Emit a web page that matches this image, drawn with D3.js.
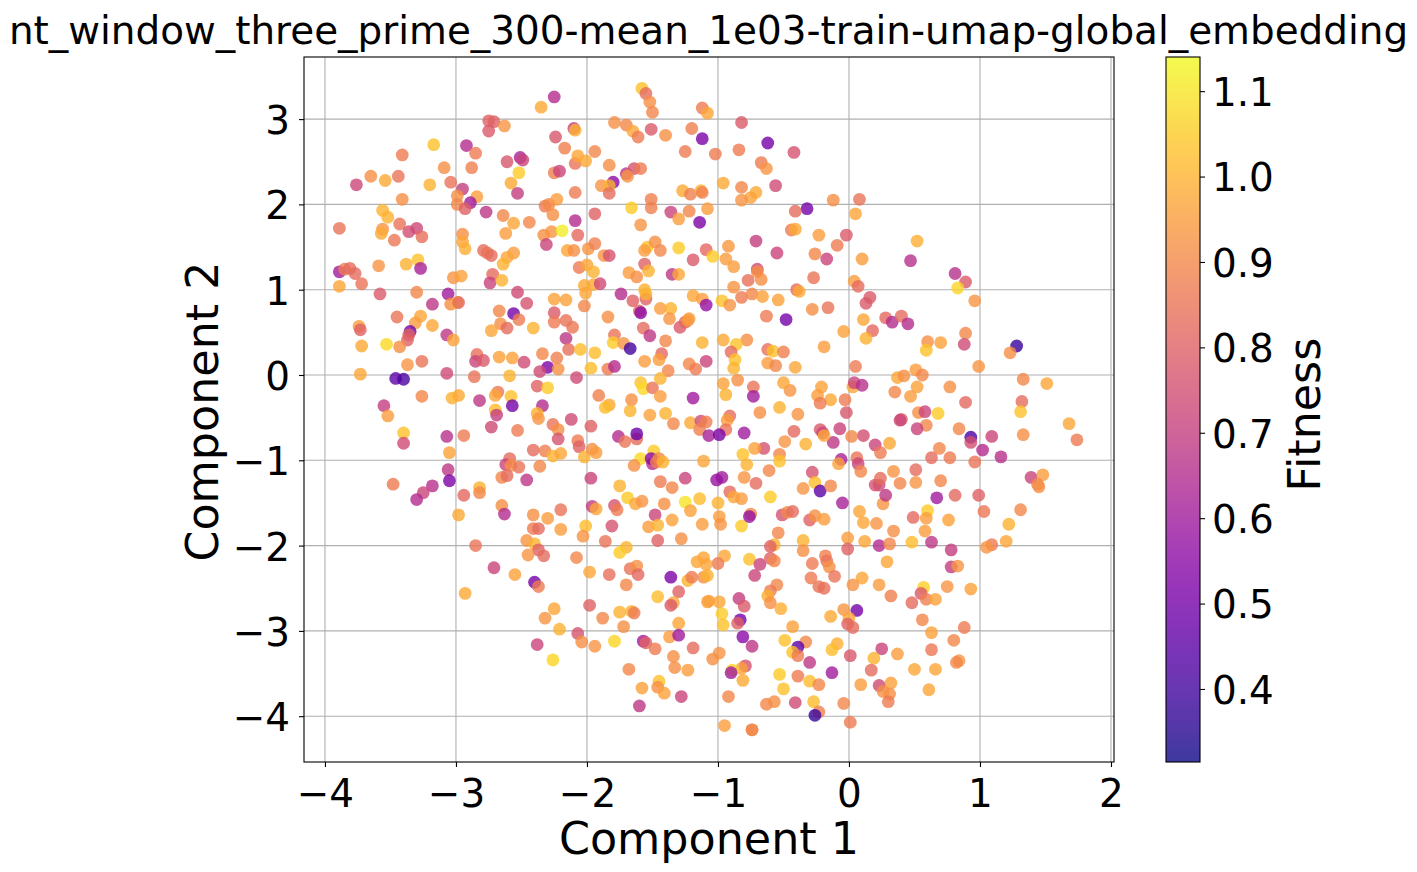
<!DOCTYPE html>
<html>
<head>
<meta charset="utf-8">
<script src="https://d3js.org/d3.v7.min.js"></script>
<style>
body { margin: 0; background: #fff; }
text { font-family: "DejaVu Sans", sans-serif; fill: #000; }
</style>
</head>
<body>
<div id="chart"></div>
<script>
// upper left of the cloud
var xA = [-1.58,-1.55,-1.52,-1.50,-2.25,-2.35,-1.12,-1.08,-2.75,-2.71,
  -2.75,-2.63,-2.10,-2.09,-2.24,-2.17,-1.79,-1.70,-1.65,-1.61,
  -1.51,-1.40,-1.20,-1.12,-1.25,-3.17,-2.92,-2.85,-3.41,-2.88,
  -3.09,-2.61,-2.51,-2.49,-2.52,-2.58,-2.53,-2.25,-2.21,-2.09,
  -2.07,-2.01,-1.94,-1.83,-1.70,-1.64,-1.59,-1.69,-1.80,-1.89,
  -1.83,-1.83,-2.09,-3.65,-3.54,-3.44,-3.76,-3.20,-3.04,-2.95,
  -2.99,-2.84,-3.41,-2.99,-2.89,-2.93,-2.77,-2.64,-2.56,-2.44,
  -2.32,-2.29,-2.23,-2.26,-2.09,-1.94,-1.66,-1.51,-1.51,-1.59,
  -1.36,-1.30,-1.22,-1.14,-1.27,-1.21,-1.13,-1.12,-1.08,-3.56,
  -3.52,-3.89,-3.43,-3.56,-3.57,-3.36,-3.30,-3.26,-3.47,-2.95,
  -2.95,-2.93,-2.62,-2.33,-2.27,-2.19,-2.07,-2.31,-2.15,-2.10,
  -1.99,-1.94,-1.87,-1.83,-2.79,-2.76,-2.73,-2.56,-2.61,-2.64,
  -1.54,-1.56,-1.48,-1.44,-1.30,-1.09,-1.19,-1.56,-1.53,-1.68,
  -1.62,-1.35,-1.30,-2.06,-2.00,-1.95,-3.29,-3.38,-3.59,-3.27,
  -3.89,-3.85,-3.81,-3.77,-3.72,-3.89,-3.02,-2.96,-2.72,-2.74,
  -2.65,-2.02,-1.95,-1.90,-1.56];
var yA = [3.36,3.30,3.20,3.08,3.26,3.14,3.13,3.07,2.98,2.97,
  2.86,2.92,2.89,2.87,2.79,2.66,2.96,2.93,2.86,2.79,
  2.88,2.81,2.89,2.77,2.62,2.70,2.69,2.60,2.58,2.43,
  2.43,2.50,2.55,2.52,2.37,2.25,2.13,2.37,2.39,2.48,
  2.57,2.51,2.62,2.46,2.36,2.42,2.42,2.33,2.26,2.22,
  2.22,2.13,2.14,2.33,2.28,2.33,2.23,2.23,2.26,2.18,
  2.10,2.09,2.06,2.00,2.02,1.95,1.91,1.87,1.78,1.79,
  1.98,2.00,2.06,1.88,1.81,1.89,1.96,2.06,1.96,1.76,
  1.91,1.83,1.92,1.79,2.16,2.12,2.16,2.14,1.95,1.93,
  1.85,1.72,1.77,1.71,1.66,1.68,1.72,1.62,1.58,1.65,
  1.56,1.48,1.66,1.64,1.68,1.69,1.64,1.53,1.46,1.46,
  1.48,1.54,1.40,1.40,1.46,1.43,1.40,1.43,1.38,1.30,
  1.50,1.46,1.56,1.46,1.49,1.47,1.35,1.30,1.22,1.20,
  1.15,1.18,1.18,1.26,1.29,1.21,1.35,1.30,1.28,1.25,
  1.21,1.24,1.25,1.19,1.07,1.04,1.14,1.16,1.18,1.08,
  1.11,1.05,1.06,1.07,1.00];
var fA = [1.03,.83,.92,.90,.65,.98,.87,.97,.80,.80,
  .78,.93,.70,1.00,.77,.88,.92,.90,.97,.87,
  .78,.92,.88,.52,.87,1.03,.65,.87,.87,.88,
  .92,.77,.62,.72,1.05,.98,.70,.88,.72,.85,
  .97,.98,.90,.92,.68,.76,.87,.93,.55,.93,
  1.00,.83,.87,.92,.98,.85,.73,1.00,.85,.70,
  .92,.95,.92,.90,.60,.80,.68,.90,.97,.90,
  .87,.90,.95,.92,.65,.80,1.05,.88,.88,.93,
  .72,.95,.90,.52,.98,.88,1.00,.88,.95,1.00,
  1.00,.85,.85,.93,.98,.75,.73,.84,.86,.92,
  .97,.99,.95,.92,.93,1.12,.82,.72,.97,.92,
  .93,.88,.93,.76,.83,.85,.83,.95,.97,1.00,
  1.03,.95,.92,.90,1.05,.82,.78,.80,1.00,.95,
  .92,.68,.97,.87,.97,1.00,1.03,1.00,.93,.62,
  .60,.87,.83,.83,.85,.97,.93,.96,.83,.72,
  1.00,.98,.98,.74,1.00];

// middle left
var xB = [-3.58,-3.30,-3.06,-3.18,-3.04,-2.99,-2.98,-2.53,-2.46,-2.67,
  -2.56,-2.52,-2.66,-2.61,-2.73,-2.41,-2.25,-2.16,-2.01,-2.02,
  -2.25,-2.25,-2.16,-2.11,-2.16,-2.14,-2.05,-1.94,-1.84,-1.74,
  -1.65,-1.55,-1.55,-1.60,-1.59,-1.44,-1.36,-1.37,-1.57,-1.52,
  -1.79,-1.80,-1.72,-1.67,-1.40,-1.29,-1.25,-1.23,-1.22,-1.19,
  -1.12,-1.09,-1.12,-1.43,-1.45,-1.56,-1.22,-1.17,-1.38,-1.09,
  -3.45,-3.27,-3.31,-3.18,-3.74,-3.73,-3.35,-3.36,-3.37,-3.72,
  -3.43,-3.53,-3.07,-3.02,-3.37,-3.26,-3.73,-3.07,-3.46,-3.40,
  -2.86,-2.84,-2.85,-2.79,-2.67,-2.57,-2.48,-2.34,-2.23,-2.30,
  -2.36,-2.22,-1.97,-2.08,-2.59,-2.38,-2.30,-1.84,-1.79,-1.59,
  -1.57,-1.50,-1.44,-1.44,-1.66,-1.91,-1.83,-1.86,-1.67,-1.52,
  -1.40,-1.34,-1.19,-1.21,-1.13,-1.14,-1.09,-1.07,-3.26,-3.55,
  -3.52,-3.40,-3.40,-3.03,-2.98,-2.82,-2.68,-2.70,-2.58,-2.57,
  -2.70,-2.69,-2.73,-2.53,-2.34,-2.38,-2.37,-2.26,-2.22,-2.12,
  -1.97,-2.22,-2.07,-2.06,-1.76,-1.71,-1.62,-1.62,-3.07,-2.94,
  -3.05,-2.41,-2.32,-2.26,-2.20,-2.02,-1.96,-1.93,-2.59,-2.62,
  -2.58,-2.52,-2.36,-2.65,-2.61,-2.46,-1.97,-1.59,-1.49,-1.50,
  -1.51,-1.45,-1.47,-1.42,-1.64,-1.11,-3.06,-3.05,-3.48,-3.18,
  -3.25,-3.30,-2.94,-2.82,-2.82,-2.65,-2.63,-2.98,-2.41,-2.30,
  -2.20,-1.96,-1.93,-1.79,-1.77,-1.75,-1.69,-1.63,-1.58,-1.44,
  -1.35,-1.25,-1.41,-1.25,-1.14,-1.21,-1.48,-1.35,-1.12,-1.81,
  -2.01,-2.20,-2.41,-2.37,-1.53,-1.46];
var yB = [.95,.97,.95,.83,.83,.85,.85,.97,.84,.75,
  .72,.65,.60,.55,.52,.55,.89,.88,.96,.81,
  .73,.62,.64,.56,.43,.30,.30,.26,.68,.95,
  .87,.89,.95,.75,.73,.78,.78,.66,.55,.46,
  .47,.38,.37,.31,.40,.56,.62,.64,.66,.93,
  .89,.82,.38,.25,.18,.16,.13,.07,.05,.16,
  .68,.69,.61,.58,.57,.53,.51,.47,.41,.34,
  .33,.36,.47,.41,.12,.16,.01,.02,-.04,-.05,
  -.02,.24,.16,.17,.21,.20,.15,.25,.20,.09,
  .04,.07,.08,-.03,-.01,-.13,-.15,.07,.10,-.09,
  -.16,-.15,-.04,-.25,-.29,-.24,-.35,-.38,-.42,-.47,
  -.45,-.57,-.27,-.56,-.54,-.64,-.55,-.71,-.25,-.36,
  -.48,-.68,-.80,-.27,-.24,-.30,-.20,-.24,-.25,-.36,
  -.41,-.47,-.61,-.65,-.36,-.45,-.51,-.58,-.64,-.52,
  -.60,-.75,-.77,-.84,-.72,-.78,-.75,-.69,-.72,-.71,
  -.91,-.88,-.89,-.95,-.92,-.96,-.87,-.91,-.98,-1.05,
  -1.06,-1.08,-1.07,-1.20,-1.18,-1.23,-1.21,-.98,-.89,-1.04,
  -.98,-.98,-1.02,-1.02,-1.06,-1.01,-1.11,-1.24,-1.28,-1.30,
  -1.38,-1.46,-1.41,-1.32,-1.38,-1.53,-1.63,-1.64,-1.64,-1.68,
  -1.58,-1.54,-1.57,-1.53,-1.58,-1.30,-1.44,-1.51,-1.48,-1.25,
  -1.32,-1.21,-1.51,-1.49,-1.45,-1.59,-1.64,-1.70,-1.75,-1.77,
  -1.77,-1.81,-1.80,-1.80,-1.78,-1.76];
var fB = [.78,.90,.60,.68,.92,1.00,.82,.74,.76,.90,
  .50,.87,.92,.83,.97,1.00,.96,.96,.97,.90,
  .78,.87,.85,.86,.68,.84,1.02,1.02,.92,.65,
  .80,.80,1.00,.82,.55,.95,1.00,.93,.83,.68,
  .85,1.05,.93,.40,.90,.78,.82,.93,.95,.97,
  .95,.57,1.00,.82,.95,.95,.90,.87,.90,.72,
  .85,.97,.95,.97,.95,.80,.50,.80,.80,.98,
  .92,1.08,.68,.96,.93,.85,.97,.74,.45,.42,
  .85,.84,.72,.78,.96,.96,.74,.90,.88,.52,
  .74,.92,1.02,.74,1.00,.80,1.05,.87,.65,1.03,
  1.08,.85,1.00,.95,.92,.88,.98,1.02,1.00,.96,
  1.00,.90,.60,.98,.74,.88,.88,.62,.90,.70,
  .95,1.03,.74,1.00,.98,.68,.86,.97,1.03,.50,
  1.02,.70,.74,.87,.65,1.00,.93,.85,.92,.74,
  .80,.76,.87,.80,.65,.85,.83,.48,.66,.87,
  .96,.83,.88,1.00,.97,1.00,.92,.95,.83,.72,
  .92,.85,.90,.90,.83,.68,.72,1.08,1.05,.65,
  .55,.90,.88,1.00,.92,.97,.68,.52,.87,.66,
  .72,.65,.82,1.00,.90,.92,.65,.98,.92,.95,
  .85,.70,.97,.76,.87,1.00,1.05,.97,.93,.87,
  .90,.72,.92,1.10,1.02,.96,.72,.96,.95,.76,
  1.02,.95,.87,.83,.95,1.00];

// upper right
var xC = [-.82,-.62,-1.02,-.84,-.42,-.67,-.63,-.96,-.82,-.71,
  -.75,-.82,-.56,-.12,.08,-.32,-.41,.05,-.44,-.41,
  -.23,-.02,-.09,-.71,-.92,-.55,-1.04,-.94,-.26,-.17,
  .10,.52,.47,-.88,-.70,-.70,-.67,-.77,-.88,-.27,
  -.40,-.38,.04,.07,.16,.13,.81,.89,.83,.96,
  -.82,-.74,-.66,-.54,-.97,-.91,-.28,-.16,-.63,-.48,
  .11,.28,.33,.40,.45,.18,-.04,.13,.89,.88,
  .60,.70,.59,1.28,1.23,-.96,-.78,-.86,-.90,-.62,
  -.58,-.50,-.19,-.87,-.88,-.62,-.56,-.41,.05,.99,
  .51];
var yC = [2.96,2.72,2.59,2.64,2.61,2.49,2.42,2.25,2.20,2.14,
  2.08,2.05,2.22,2.05,2.06,1.95,1.92,1.89,1.70,1.71,
  1.64,1.64,1.52,1.57,1.51,1.43,1.39,1.36,1.42,1.36,
  1.36,1.57,1.34,1.27,1.24,1.21,1.12,1.11,1.03,1.14,
  1.00,.98,1.10,1.04,.91,.84,1.19,1.09,1.02,.87,
  .91,.95,.92,.88,.87,.82,.77,.79,.69,.65,
  .65,.67,.62,.69,.60,.52,.51,.43,.49,.36,
  .39,.38,.29,.34,.26,.41,.41,.36,.27,.30,
  .28,.27,.33,.18,.08,.14,.11,.09,.10,.10,
  .06];
var fC = [.78,.50,.87,.87,.76,.87,.93,.98,.90,.98,
  .96,.93,.74,.92,.85,.50,.83,.97,.87,.98,
  .95,.78,.87,.70,.94,.72,1.05,.95,.90,.72,
  .95,.99,.66,.95,.74,.92,.92,.84,.93,.85,
  .83,.98,.95,.83,.78,.78,.66,.78,1.07,.93,
  .87,.90,.96,.96,1.03,.93,.92,.85,.87,.50,
  .97,.82,.65,.83,.65,.82,.96,1.00,.90,.74,
  .92,.96,1.03,.38,.92,.98,.92,1.03,.83,.84,
  1.03,.88,.95,1.03,1.00,.95,.90,.97,.87,.93,
  .95];

// middle right
var xD = [1.33,1.51,.52,.37,.42,.56,.77,.35,.47,.89,
  1.32,1.31,1.68,1.74,.68,.53,.58,.40,.39,.59,
  .52,.84,.93,.93,1.09,1.33,1.02,1.16,.96,.69,
  .63,.77,.31,.20,.24,.11,.02,-.07,-.12,-.02,
  -.03,-.14,.03,.04,.10,-.21,-.24,-.22,-.45,-.50,
  -.53,-.39,-.68,-.73,-.73,-.85,-.96,-.94,-.91,-.93,
  -.94,-.99,-.80,-.42,-.22,-.20,-.19,-.33,-.49,-.65,
  -.72,-.53,-.53,-.81,-.78,-.61,-.06,-.08,.06,.07,
  .09,-.28,-.26,-.22,-.14,-.35,-.97,-1.01,-.80,-.71,
  -.91,-.88,-.82,-.60,-1.00,-.99,-.98,-.82,-.75,-.76,
  -.51,-.47,-.43,-.30,-.26,-.19,-.05,.08,.26,.28,
  .23,.20,.24,.34,.39,.51,.51,.70,.67,.81,
  .99,1.03,1.31,1.39,1.48,1.44,1.45,1.22,1.20,1.09,
  1.05,.78,.63,.48,.76,.60,.59,.49,.58,.34,
  .21,.11,-.01,.12,.23,.31,-.01,-.35,-.35,-.57,
  -.60,-.54,-.76,-.95,-1.00,-.68,-.60,-.57,-.28,-.18,
  -.17,-.15,.29,.78,.83];
var yD = [-.05,-.10,-.14,-.03,-.01,.00,-.14,-.20,-.25,-.32,
  -.31,-.43,-.57,-.76,-.45,-.44,-.43,-.52,-.53,-.59,
  -.63,-.63,-.73,-.79,-.72,-.70,-.88,-.96,-1.02,-.86,
  -.97,-.97,-.80,-.82,-.91,-.71,-.72,-.63,-.79,-.44,
  -.29,-.29,-.14,-.09,-.12,-.14,-.24,-.33,-.18,-.09,
  -.38,-.46,-.44,-.14,-.25,-.06,-.10,-.23,-.48,-.53,
  -.64,-.70,-.68,-.66,-.64,-.68,-.71,-.81,-.78,-.86,
  -.86,-.93,-1.01,-.93,-1.05,-1.12,-.99,-1.04,-.97,-1.04,
  -1.13,-1.14,-1.26,-1.36,-1.30,-1.33,-1.20,-1.23,-1.20,-1.27,
  -1.37,-1.43,-1.45,-1.43,-1.50,-1.66,-1.75,-1.77,-1.63,-1.66,
  -1.64,-1.61,-1.60,-1.70,-1.65,-1.69,-1.50,-1.60,-1.51,-1.41,
  -1.29,-1.29,-1.21,-1.13,-1.27,-1.26,-1.11,-1.24,-1.44,-1.41,
  -1.41,-1.60,-1.58,-1.20,-1.17,-1.28,-1.31,-1.75,-1.95,-1.99,
  -2.02,-2.05,-1.96,-1.96,-1.70,-1.59,-1.68,-1.67,-1.83,-1.83,
  -1.74,-1.73,-1.91,-1.95,-2.00,-1.98,-2.04,-1.94,-2.06,-1.99,
  -2.01,-1.85,-2.16,-2.12,-2.21,-2.22,-2.15,-2.18,-2.21,-2.12,
  -2.18,-2.25,-2.19,-2.25,-2.24];
var fD = [.90,.97,.96,.97,.92,.90,.92,.90,.95,.82,
  .83,1.03,.97,.87,1.05,.92,.72,.80,.72,.90,
  .72,.90,.42,.75,.72,.92,.65,.66,.85,.90,
  .83,.87,.98,.72,.87,.75,.90,.72,.68,.77,
  .87,.98,.97,.72,.66,.96,.95,.87,.93,.97,
  1.00,.93,.92,.85,.60,.92,.96,1.00,.83,.95,
  .85,.52,.60,.82,.78,.72,.97,1.00,.93,.76,
  .96,.90,1.03,1.03,1.00,.90,.62,.96,.85,.72,
  .90,.76,1.02,.45,.90,.93,.60,.58,.93,.83,
  .83,.97,.95,1.05,1.00,.95,.93,1.05,.90,.57,
  .76,.90,.83,.80,.92,.95,.62,.97,.93,.68,
  .74,.76,.83,.93,.90,.93,.83,.90,.60,.82,
  .80,.86,.90,.72,.95,.90,.92,1.00,.97,.87,
  .93,.70,.68,1.02,.96,1.05,.95,.82,.95,.92,
  .93,.97,.95,.97,.65,.90,.80,1.00,.92,1.00,
  .80,.90,1.03,.97,.87,.72,.80,.90,.87,.88,
  .85,.92,.97,.70,.93];

// lower right
var xE = [-.72,-.29,-.11,-.23,-.19,.10,.03,.23,-.55,-.60,
  -.62,-.60,-.84,-.80,-.99,-1.07,-.52,-.97,-.83,-.85,
  -.96,.57,.55,.59,.66,.48,.32,.75,.93,.56,
  .63,.88,.80,.63,.84,.82,.66,.50,.37,.25,
  .19,.01,.17,.32,.09,.23,.26,.31,.30,.61,
  -.04,.01,.06,-.04,.00,-.14,-.01,.03,-.43,-.49,
  -.33,-.39,-.43,-.39,-.09,-.13,-.30,-.13,-.39,-.30,
  -.23,-.53,-.50,-.81,-.74,-.99,-1.04,-.79,-.82,-.89,
  -.90,-.81,-.92,-.63,-.57,-.41,-.27,-.23,-.26,-.95,
  -.74,-.74];
var yE = [-2.35,-2.38,-2.36,-2.48,-2.50,-2.38,-2.46,-2.46,-2.46,-2.53,
  -2.59,-2.67,-2.62,-2.71,-2.66,-2.65,-2.74,-2.80,-2.87,-2.91,
  -2.93,-2.49,-2.56,-2.63,-2.63,-2.67,-2.59,-2.48,-2.51,-2.87,
  -3.02,-2.96,-3.11,-3.22,-3.35,-3.37,-3.45,-3.45,-3.27,-3.21,
  -3.32,-3.29,-3.46,-3.61,-3.63,-3.64,-3.71,-3.74,-3.83,-3.69,
  -3.85,-4.07,-2.76,-2.75,-2.85,-2.83,-2.92,-2.96,-2.95,-3.11,
  -3.13,-3.19,-3.25,-3.29,-3.15,-3.22,-3.37,-3.49,-3.53,-3.59,
  -3.63,-3.51,-3.68,-3.07,-3.18,-3.26,-3.33,-3.41,-3.44,-3.46,
  -3.49,-3.58,-3.77,-3.86,-3.83,-3.84,-3.83,-3.95,-3.99,-4.11,
  -4.16,-4.16];
var fE = [.72,.87,.85,.85,.84,.97,.93,.95,.90,.87,
  .99,.92,.70,.78,.97,.95,.99,1.05,.50,.80,
  1.03,1.06,.78,.88,.96,.83,.88,.93,.96,.90,
  .96,.87,.90,.86,.93,.90,.97,.97,.95,.72,
  1.00,.77,.83,.96,.95,.74,.92,.92,.87,.97,
  .90,.87,.50,.93,.97,.98,.80,.83,.96,1.03,
  .90,.45,1.03,.87,.99,1.02,.68,.60,.87,1.02,
  .90,1.05,1.03,.55,.68,.93,.92,.76,.96,1.07,
  .60,.98,.90,.90,.92,.74,1.02,.88,.38,.95,
  .90,.90];

// lower left
var xF = [-2.03,-1.86,-1.46,-1.28,-2.85,-2.46,-2.40,-2.37,-2.33,-2.45,
  -2.08,-1.70,-1.75,-2.71,-2.55,-2.40,-2.37,-2.93,-1.98,-1.83,
  -1.67,-1.62,-1.61,-1.70,-1.36,-1.23,-1.20,-1.11,-1.08,-1.16,
  -1.11,-1.09,-1.30,-1.46,-1.34,-1.36,-1.08,-1.98,-2.25,-2.32,
  -2.21,-2.07,-2.04,-1.94,-1.88,-1.75,-1.66,-1.64,-1.72,-1.30,
  -1.37,-1.30,-1.57,-1.55,-1.48,-1.79,-2.38,-2.26,-1.19,-1.34,
  -1.33,-1.23,-1.68,-1.45,-1.46,-1.58,-1.41,-1.28,-1.60];
var yF = [-1.89,-1.95,-1.94,-1.92,-2.00,-1.94,-1.98,-2.05,-2.12,-2.11,
  -2.14,-2.02,-2.08,-2.26,-2.34,-2.43,-2.48,-2.56,-2.31,-2.34,
  -2.27,-2.24,-2.34,-2.46,-2.37,-2.41,-2.37,-2.37,-2.35,-2.19,
  -2.14,-2.22,-2.54,-2.60,-2.67,-2.70,-2.66,-2.70,-2.74,-2.85,
  -2.98,-3.03,-3.13,-3.18,-2.85,-2.78,-2.77,-2.79,-2.95,-2.91,
  -3.07,-3.05,-3.12,-3.14,-3.21,-3.12,-3.16,-3.34,-3.20,-3.30,
  -3.43,-3.46,-3.45,-3.59,-3.66,-3.67,-3.73,-3.77,-3.88];
var fF = [.93,.85,.80,.92,.85,.93,1.00,.80,.83,.93,
  .90,1.00,1.05,.72,.96,.50,.87,.98,.97,.84,
  .85,.92,.82,.90,.52,1.00,.87,.92,1.00,.97,
  .97,.97,.80,1.02,.97,.78,.96,.80,.97,.93,
  1.00,.76,.92,.93,.90,1.00,1.00,.87,.92,.97,
  .95,.60,.60,.80,.87,1.07,.72,1.07,.83,.92,
  .92,.95,.90,1.03,.92,.96,.96,.72,.68];

var xTicks = [-4, -3, -2, -1, 0, 1, 2];
var yTicks = [-4, -3, -2, -1, 0, 1, 2, 3];
var cbTicks = [0.4, 0.5, 0.6, 0.7, 0.8, 0.9, 1.0, 1.1];

var component1 = xA.concat(xB, xC, xD, xE, xF);
var component2 = yA.concat(yB, yC, yD, yE, yF);
var fitness = fA.concat(fB, fC, fD, fE, fF);

var width = 1417, height = 872;
var left = 304, right = 1114, top_ = 57, bottom = 762;
var cbLeft = 1166, cbRight = 1200;

var svg = d3.select("#chart")
    .append("svg")
    .attr("width", width)
    .attr("height", height)
    .style("display", "block");

var xScale = d3.scaleLinear().domain([-4.16, 2.023]).range([left, right]);
var yScale = d3.scaleLinear().domain([-4.537, 3.728]).range([bottom, top_]);
var cScale = d3.scaleLinear().domain([0.3145, 1.14]).range([bottom, top_]);
var color = d3.scaleSequential(d3.interpolatePlasma).domain([0.3145, 1.14]);

// grid
svg.append("g").selectAll("line").data(xTicks).enter().append("line")
    .attr("x1", d => xScale(d)).attr("x2", d => xScale(d))
    .attr("y1", top_).attr("y2", bottom)
    .attr("stroke", "#b0b0b0").attr("stroke-width", 1.1);
svg.append("g").selectAll("line").data(yTicks).enter().append("line")
    .attr("y1", d => yScale(d)).attr("y2", d => yScale(d))
    .attr("x1", left).attr("x2", right)
    .attr("stroke", "#b0b0b0").attr("stroke-width", 1.1);

// points
svg.append("g").selectAll("circle").data(fitness).enter().append("circle")
    .attr("cx", (d, i) => xScale(component1[i]))
    .attr("cy", (d, i) => yScale(component2[i]))
    .attr("r", 6.4)
    .attr("fill", d => color(d))
    .attr("fill-opacity", 0.8);

// axes box
svg.append("rect")
    .attr("x", left).attr("y", top_)
    .attr("width", right - left).attr("height", bottom - top_)
    .attr("fill", "none").attr("stroke", "#000").attr("stroke-width", 1.1);

var xAxis = svg.append("g")
    .attr("transform", `translate(0, ${bottom})`)
    .call(d3.axisBottom(xScale).tickValues(xTicks).tickFormat(d3.format("d")).tickSize(5).tickPadding(12));
var yAxis = svg.append("g")
    .attr("transform", `translate(${left}, 0)`)
    .call(d3.axisLeft(yScale).tickValues(yTicks).tickFormat(d3.format("d")).tickSize(5).tickPadding(9));

// colorbar
var grad = svg.append("defs").append("linearGradient")
    .attr("id", "plasma")
    .attr("x1", 0).attr("x2", 0).attr("y1", 1).attr("y2", 0);
d3.range(0, 1.001, 0.05).forEach(function (t) {
    grad.append("stop")
        .attr("offset", t)
        .attr("stop-color", d3.interpolatePlasma(t))
        .attr("stop-opacity", 0.8);
});
svg.append("rect")
    .attr("x", cbLeft).attr("y", top_)
    .attr("width", cbRight - cbLeft).attr("height", bottom - top_)
    .attr("fill", "url(#plasma)")
    .attr("stroke", "#000").attr("stroke-width", 1.1);
var cbAxis = svg.append("g")
    .attr("transform", `translate(${cbRight}, 0)`)
    .call(d3.axisRight(cScale).tickValues(cbTicks).tickFormat(d3.format(".1f")).tickSize(5).tickPadding(7));

[xAxis, yAxis, cbAxis].forEach(function (a) {
    a.select(".domain").remove();
    a.selectAll(".tick line").attr("stroke", "#000").attr("stroke-width", 1.1);
    a.selectAll(".tick text").style("font-family", '"DejaVu Sans", sans-serif').style("font-size", "38.9px").attr("fill", "#000");
});
// nudge the vertical axis labels down a little
[yAxis, cbAxis].forEach(function (a) {
    a.selectAll(".tick text").attr("dy", "0.37em");
});

// Add titles
svg.append("text")
    .attr("x", 708.5)
    .attr("y", 44)
    .attr("text-anchor", "middle")
    .style("font-size", "38.9px")
    .text("nt_window_three_prime_300-mean_1e03-train-umap-global_embedding");

svg.append("text")
    .attr("x", (left + right) / 2)
    .attr("y", 854)
    .attr("text-anchor", "middle")
    .style("font-size", "44.4px")
    .text("Component 1");

svg.append("text")
    .attr("transform", `translate(218, ${(top_ + bottom) / 2 + 2}) rotate(-90)`)
    .attr("text-anchor", "middle")
    .style("font-size", "44.4px")
    .text("Component 2");

svg.append("text")
    .attr("transform", `translate(1320, ${(top_ + bottom) / 2 + 5}) rotate(-90)`)
    .attr("text-anchor", "middle")
    .style("font-size", "44.4px")
    .text("Fitness");
</script>
</body>
</html>
